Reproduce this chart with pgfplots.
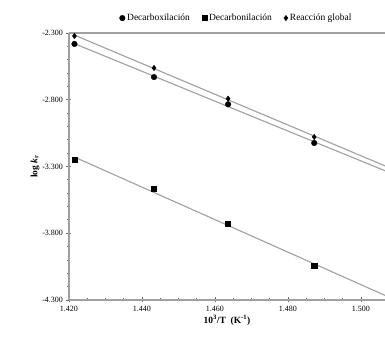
\documentclass[border=0pt]{standalone}
\usepackage{pgfplots}
\pgfplotsset{compat=1.18}
\usepackage{fontspec}
\setmainfont{Liberation Serif}
\definecolor{lg}{RGB}{160,160,160}
\definecolor{tg}{RGB}{110,110,110}
\begin{document}
\begin{tikzpicture}
\begin{axis}[
  name=ax,
  scale only axis, width=316pt, height=267pt,
  xmin=1.420, xmax=1.5066, ymin=-4.3, ymax=-2.3,
  axis x line*=bottom, axis y line*=left,
  axis line style={lg, line width=1.2pt},
  xtick={1.42,1.44,1.46,1.48,1.50},
  ytick={-4.3,-3.8,-3.3,-2.8,-2.3},
  minor x tick num=3, minor y tick num=4,
  tick align=center,
  major tick length=5pt, minor tick length=3pt,
  every tick/.style={tg, line width=0.8pt},
  /pgf/number format/.cd, fixed, fixed zerofill, precision=3, assume math mode=true,
  /pgfplots/.cd,
  ticklabel style={font=\fontsize{8}{9}\selectfont, black},
  xlabel={\textbf{10\textsuperscript{3}/T\ \ (K\textsuperscript{-1})}},
  ylabel={\textbf{log \textit{k}\textsubscript{r}}},
  label style={font=\fontsize{9.5}{11}\selectfont},
  xlabel style={yshift=3pt},
  ylabel style={yshift=-4pt},
  clip=true,
  legend style={at={(0.53,1.025)}, anchor=south, draw=none, fill=none,
    legend columns=3, font=\fontsize{9.5}{11}\selectfont,
    /tikz/every even column/.append style={column sep=10pt}},
  legend image code/.code={\draw[#1] plot coordinates {(0.1cm,0cm)};},
  legend cell align=left,
]
\addplot[only marks, mark=*, mark size=2.8pt, black] coordinates {
  (1.4215,-2.382) (1.4433,-2.630) (1.4636,-2.834) (1.4872,-3.124)};
\addlegendentry{Decarboxilación}
\addplot[only marks, mark=square*, mark size=2.6pt, black] coordinates {
  (1.4215,-3.251) (1.4433,-3.468) (1.4636,-3.731) (1.4872,-4.045)};
\addlegendentry{Decarbonilación}
\addplot[only marks, mark=diamond*, mark size=2.7pt, black] coordinates {
  (1.4215,-2.322) (1.4433,-2.562) (1.4636,-2.792) (1.4872,-3.079)};
\addlegendentry{Reacción global}
\addplot[lg, line width=1.1pt, forget plot] coordinates {(1.4215,-2.380) (1.51,-3.370)};
\addplot[lg, line width=1.1pt, forget plot] coordinates {(1.4215,-2.3158) (1.51,-3.3345)};
\addplot[lg, line width=1.1pt, forget plot] coordinates {(1.4215,-3.2293) (1.51,-4.3068)};
\draw[lg, line width=1.4pt] (rel axis cs:0,1) -- (rel axis cs:1,1);
\end{axis}
\pgfresetboundingbox
\path ([xshift=-69pt,yshift=-40pt]ax.south west) rectangle ([yshift=33pt]ax.north east);
\end{tikzpicture}
\end{document}
